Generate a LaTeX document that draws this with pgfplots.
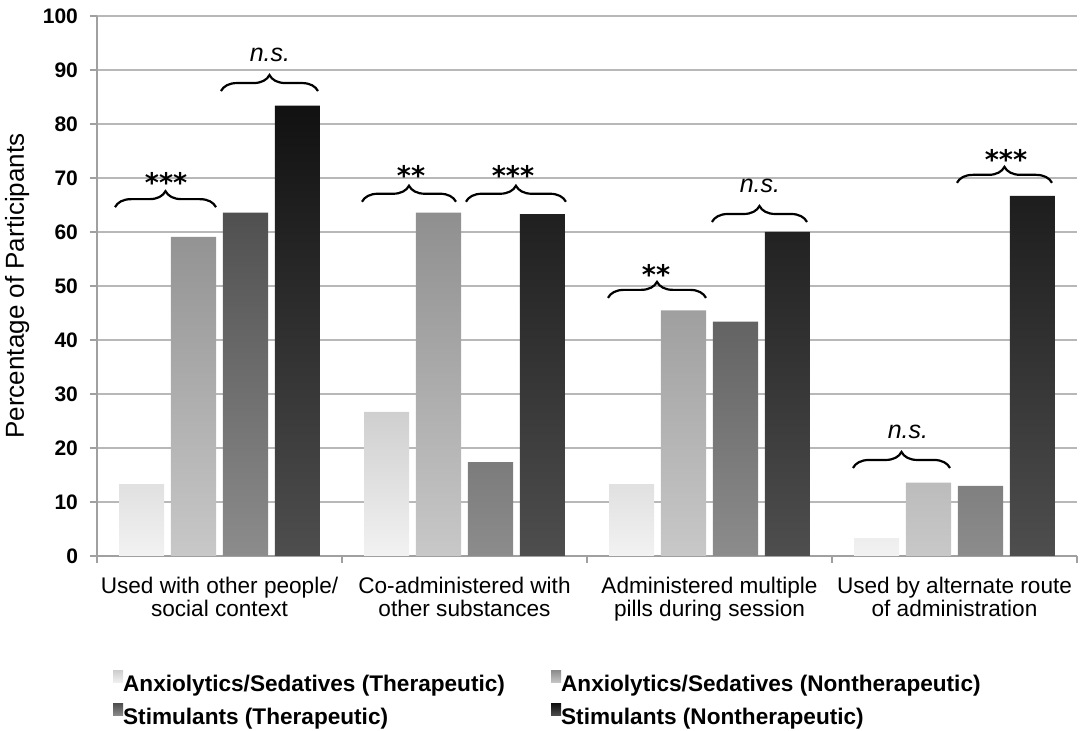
\documentclass[border=0pt]{standalone}
\usepackage{fontspec}
\setmainfont{Liberation Sans}
\newfontfamily\djv{DejaVu Sans}
\usepackage{pgfplots}
\usepackage{pgfplotstable}
\pgfplotsset{compat=1.18}
\usetikzlibrary{decorations.pathreplacing}
\definecolor{aT}{HTML}{CFCFCF}\definecolor{aB}{HTML}{F2F2F2}
\definecolor{bT}{HTML}{8F8F8F}\definecolor{bB}{HTML}{C8C8C8}
\definecolor{cT}{HTML}{505050}\definecolor{cB}{HTML}{8C8C8C}
\definecolor{dT}{HTML}{111111}\definecolor{dB}{HTML}{4E4E4E}
\definecolor{gridc}{HTML}{B8B8B8}
\definecolor{axc}{HTML}{A0A0A0}

\pgfplotstableread{
x s1 s2 s3 s4
0 13.3 59.1 63.6 83.4
1 26.7 63.6 17.4 63.3
2 13.3 45.5 43.4 60.0
3 3.3 13.6 13.0 66.7
}\datatable

\tikzset{
  sig/.style={decorate, decoration={brace, amplitude=8pt}, line width=1.1pt},
  star/.style={font=\djv\bfseries\fontsize{13.5}{13.5}\selectfont, anchor=base, inner sep=0pt},
  ns/.style={font=\itshape\fontsize{12.5}{14}\selectfont, anchor=base, inner sep=0pt}
}

\begin{document}
\begin{tikzpicture}
\begin{axis}[name=ax, scale only axis, width=490pt, height=270pt,
  xmin=-0.5, xmax=3.5, ymin=0, ymax=100,
  ytick={0,10,20,30,40,50,60,70,80,90,100},
  yticklabels={0,10,20,30,40,50,60,70,80,90,100},
  xtick={-0.5,0.5,1.5,2.5,3.5},
  x tick label as interval,
  xticklabels={{Used with other people/\\social context},{Co-administered with\\other substances},{Administered multiple\\pills during session},{Used by alternate route\\of administration}},
  xticklabel style={align=center, font=\fontsize{11.3}{11.6}\selectfont, yshift=-3.5pt},
  yticklabel style={font=\bfseries\fontsize{10.5}{12}\selectfont, xshift=-2.5pt},
  axis x line*=bottom, axis y line*=left,
  axis line style={-, axc, line width=0.75pt},
  ymajorgrids, grid style={gridc, line width=0.8pt},
  tick align=outside, major tick length=3.5pt, tick style={axc, line width=0.75pt},
  ylabel={Percentage of Participants},
  ylabel style={font=\fontsize{13}{15}\selectfont},
  clip=false,
  legend columns=2,
  legend cell align=left,
  legend style={draw=none, fill=none, inner sep=0pt, at={(rel axis cs:0.0161,-0.2121)}, anchor=north west,
    font=\bfseries\fontsize{11.3}{13}\selectfont, row sep=2.5pt},
]
\addplot[ybar, bar width=0.184, bar shift=-0.318, draw=none, top color=aT, bottom color=aB,
  legend image code/.code={\fill[top color=aT,bottom color=aB] (0pt,1pt) rectangle (5pt,7pt);}]
  table[x=x,y=s1]{\datatable};
\addplot[ybar, bar width=0.184, bar shift=-0.106, draw=none, top color=bT, bottom color=bB,
  legend image code/.code={\fill[top color=bT,bottom color=bB] (0pt,1pt) rectangle (5pt,7pt);}]
  table[x=x,y=s2]{\datatable};
\addplot[ybar, bar width=0.184, bar shift=0.106, draw=none, top color=cT, bottom color=cB,
  legend image code/.code={\fill[top color=cT,bottom color=cB] (0pt,1pt) rectangle (5pt,7pt);}]
  table[x=x,y=s3]{\datatable};
\addplot[ybar, bar width=0.184, bar shift=0.318, draw=none, top color=dT, bottom color=dB,
  legend image code/.code={\fill[top color=dT,bottom color=dB] (0pt,1pt) rectangle (5pt,7pt);}]
  table[x=x,y=s4]{\datatable};
\legend{\hspace*{-2pt}\makebox[212pt][l]{Anxiolytics/Sedatives (Therapeutic)},\hspace*{-2pt}Anxiolytics/Sedatives (Nontherapeutic),\hspace*{-2pt}\makebox[212pt][l]{Stimulants (Therapeutic)},\hspace*{-2pt}Stimulants (Nontherapeutic)}

% significance braces
\draw[sig] (axis cs:-0.4265,64.6) -- (axis cs:-0.0143,64.6);
\node[star] at (axis cs:-0.218,67.4) {***};
\draw[sig] (axis cs:0.006,86.1) -- (axis cs:0.402,86.1);
\node[ns] at (axis cs:0.206,91.5) {n.s.};
\draw[sig] (axis cs:0.5816,65.6) -- (axis cs:0.9653,65.6);
\node[star] at (axis cs:0.782,68.7) {**};
\draw[sig] (axis cs:1.006,65.6) -- (axis cs:1.414,65.6);
\node[star] at (axis cs:1.198,68.7) {***};
\draw[sig] (axis cs:1.5857,47.8) -- (axis cs:1.9857,47.8);
\node[star] at (axis cs:1.782,50.2) {**};
\draw[sig] (axis cs:2.010,61.85) -- (axis cs:2.398,61.85);
\node[ns] at (axis cs:2.206,67.4) {n.s.};
\draw[sig] (axis cs:2.5857,16.3) -- (axis cs:2.9816,16.3);
\node[ns] at (axis cs:2.810,21.85) {n.s.};
\draw[sig] (axis cs:3.010,69.1) -- (axis cs:3.398,69.1);
\node[star] at (axis cs:3.210,71.5) {***};
\end{axis}
\pgfresetboundingbox
\path ([xshift=-48.5pt,yshift=-87.5pt]ax.south west) rectangle ([xshift=2.5pt,yshift=8pt]ax.north east);
\end{tikzpicture}
\end{document}
